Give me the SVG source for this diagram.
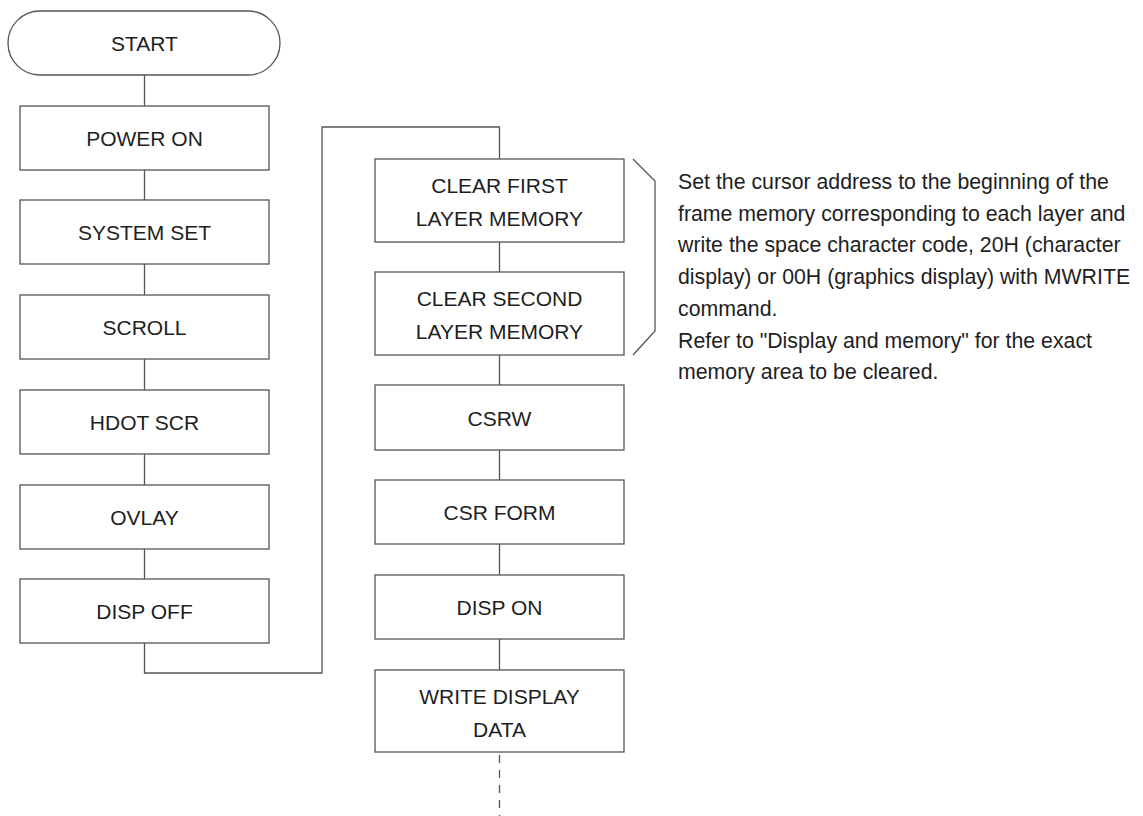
<svg xmlns="http://www.w3.org/2000/svg" width="1143" height="816" viewBox="0 0 1143 816">
<style>
.box{fill:#fff;stroke:#555;stroke-width:1.3}
.ln{fill:none;stroke:#555;stroke-width:1.3}
.t{font-family:"Liberation Sans",Arial,sans-serif;font-size:21px;fill:#1e1e1e;text-anchor:middle}
.d{font-family:"Liberation Sans",Arial,sans-serif;font-size:21.3px;fill:#1e1e1e}
</style>
<rect width="1143" height="816" fill="#fff"/>
<g id="connectors">
<line class="ln" x1="144.5" y1="75" x2="144.5" y2="106"/>
<line class="ln" x1="144.5" y1="170" x2="144.5" y2="200"/>
<line class="ln" x1="144.5" y1="264" x2="144.5" y2="295"/>
<line class="ln" x1="144.5" y1="359" x2="144.5" y2="390"/>
<line class="ln" x1="144.5" y1="454" x2="144.5" y2="485"/>
<line class="ln" x1="144.5" y1="549" x2="144.5" y2="579"/>
<polyline class="ln" points="144.5,643 144.5,673 322,673 322,127 499.5,127 499.5,159"/>
<line class="ln" x1="499.5" y1="242" x2="499.5" y2="272"/>
<line class="ln" x1="499.5" y1="355" x2="499.5" y2="385"/>
<line class="ln" x1="499.5" y1="450" x2="499.5" y2="480"/>
<line class="ln" x1="499.5" y1="544" x2="499.5" y2="575"/>
<line class="ln" x1="499.5" y1="639" x2="499.5" y2="670"/>
<line class="ln" x1="499.5" y1="755" x2="499.5" y2="816" stroke-dasharray="8,7"/>
<polyline class="ln" points="633,159 655,181 655,331 633,355"/>
</g>
<g id="start"><rect class="box" x="8" y="11" width="272" height="64" rx="32" ry="32"/><text class="t" x="144.5" y="51">START</text></g>
<g id="power-on"><rect class="box" x="20" y="106" width="249" height="64"/><text class="t" x="144.5" y="146">POWER ON</text></g>
<g id="system-set"><rect class="box" x="20" y="200" width="249" height="64"/><text class="t" x="144.5" y="240">SYSTEM SET</text></g>
<g id="scroll"><rect class="box" x="20" y="295" width="249" height="64"/><text class="t" x="144.5" y="335">SCROLL</text></g>
<g id="hdot-scr"><rect class="box" x="20" y="390" width="249" height="64"/><text class="t" x="144.5" y="430">HDOT SCR</text></g>
<g id="ovlay"><rect class="box" x="20" y="485" width="249" height="64"/><text class="t" x="144.5" y="525">OVLAY</text></g>
<g id="disp-off"><rect class="box" x="20" y="579" width="249" height="64"/><text class="t" x="144.5" y="619">DISP OFF</text></g>
<g id="clear-first"><rect class="box" x="375" y="159" width="249" height="83"/><text class="t" x="499.5" y="193">CLEAR FIRST</text><text class="t" x="499.5" y="226">LAYER MEMORY</text></g>
<g id="clear-second"><rect class="box" x="375" y="272" width="249" height="83"/><text class="t" x="499.5" y="306">CLEAR SECOND</text><text class="t" x="499.5" y="339">LAYER MEMORY</text></g>
<g id="csrw"><rect class="box" x="375" y="385" width="249" height="65"/><text class="t" x="499.5" y="426">CSRW</text></g>
<g id="csr-form"><rect class="box" x="375" y="480" width="249" height="64"/><text class="t" x="499.5" y="520">CSR FORM</text></g>
<g id="disp-on"><rect class="box" x="375" y="575" width="249" height="64"/><text class="t" x="499.5" y="615">DISP ON</text></g>
<g id="write-display"><rect class="box" x="375" y="670" width="249" height="82"/><text class="t" x="499.5" y="704">WRITE DISPLAY</text><text class="t" x="499.5" y="737">DATA</text></g>
<g id="note">
<text class="d" x="678" y="189">Set the cursor address to the beginning of the</text>
<text class="d" x="678" y="221">frame memory corresponding to each layer and</text>
<text class="d" x="678" y="252">write the space character code, 20H (character</text>
<text class="d" x="678" y="284">display) or 00H (graphics display) with MWRITE</text>
<text class="d" x="678" y="316">command.</text>
<text class="d" x="678" y="348">Refer to "Display and memory" for the exact</text>
<text class="d" x="678" y="379">memory area to be cleared.</text>
</g>
</svg>
